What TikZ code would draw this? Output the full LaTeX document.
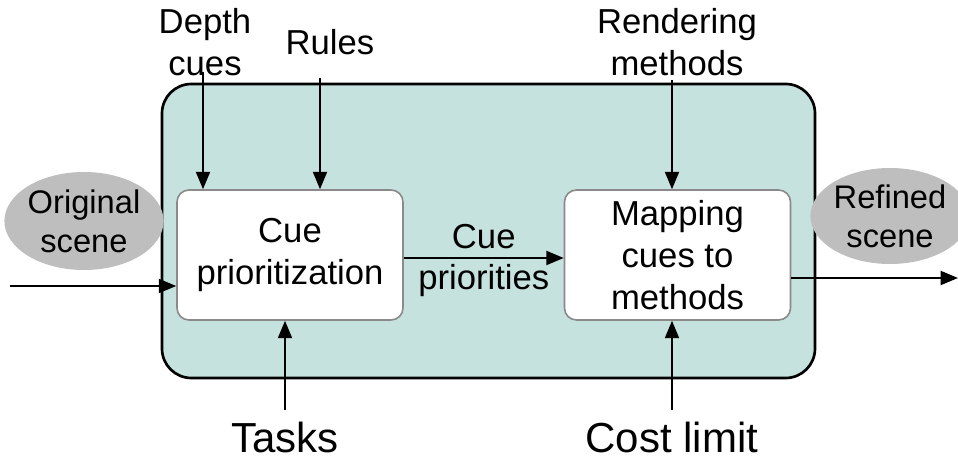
\documentclass[tikz,border=0pt]{standalone}
\usepackage{fontspec}
\setmainfont{Liberation Sans}
\usetikzlibrary{arrows.meta,shapes.geometric}
\definecolor{tealbg}{HTML}{C6E2DE}
\definecolor{ellgray}{HTML}{BEBEBE}
\definecolor{boxedge}{HTML}{8A8A8A}
\begin{document}
\begin{tikzpicture}[x=0.75pt,y=-0.75pt,
  txt/.style={font=\fontsize{26}{31.5}\selectfont, align=center, inner sep=0pt},
  bigtxt/.style={font=\fontsize{31.5}{36}\selectfont, inner sep=0pt},
  procbox/.style={draw=boxedge, line width=1.2pt, fill=white, rounded corners=9pt,
    minimum width=169.5pt, minimum height=97.5pt, inner sep=0pt, align=center,
    font=\fontsize{26}{31.5}\selectfont},
  scene/.style={ellipse, fill=ellgray, draw=none, inner sep=0pt, align=center,
    font=\fontsize{24.5}{29.5}\selectfont},
  arr/.style={line width=1.4pt, -{Triangle[length=13pt,width=10.5pt]}}]
\useasboundingbox (0,0) rectangle (958,460);
% outer container
\node[draw=black, line width=2pt, fill=tealbg, rounded corners=22pt,
  minimum width=489.75pt, minimum height=220.5pt, inner sep=0pt] (outer) at (488.5,231) {};
% scenes
\node[scene, minimum width=112.5pt, minimum height=73.5pt] (orig) at (84,221) {Original\\scene};
\node[scene, minimum width=105pt, minimum height=72pt] (refined) at (890,216) {Refined\\scene};
% process boxes
\node[procbox] (prio) at (290,255) {Cue\\prioritization};
\node[procbox] (map) at (677.5,255) {Mapping\\cues to\\methods};
% inputs
\node[txt] (depth) at (205,42) {Depth\\cues};
\node[txt] (rules) at (330,42) {Rules};
\node[txt] (render) at (677,42) {Rendering\\methods};
\node[bigtxt] (tasks) at (285,437) {Tasks};
\node[bigtxt] (cost) at (672,437) {Cost limit};
% free ends
\coordinate (inL) at (10,286);
\coordinate (outR) at (958,278);
\coordinate (dtop) at (203,72);
\coordinate (rtop) at (320,78);
\coordinate (mtop) at (672,80);
\coordinate (tbot) at (285,410);
\coordinate (cbot) at (672,410);
% connectors
\draw[arr] (inL) -- (inL -| prio.west);
\draw[arr] (map.east |- outR) -- (outR);
\draw[arr] (dtop) -- (dtop |- prio.north);
\draw[arr] (rtop) -- (rtop |- prio.north);
\draw[arr] (mtop) -- (mtop |- map.north);
\draw[arr] (tbot) -- (tbot |- prio.south);
\draw[arr] (cbot) -- (cbot |- map.south);
\draw[arr] (prio.east |- 0,258) -- node[txt, above=6pt] (cuelbl) {Cue} node[txt, below=4pt] (prilbl) {priorities} (map.west |- 0,258);
\end{tikzpicture}
\end{document}
